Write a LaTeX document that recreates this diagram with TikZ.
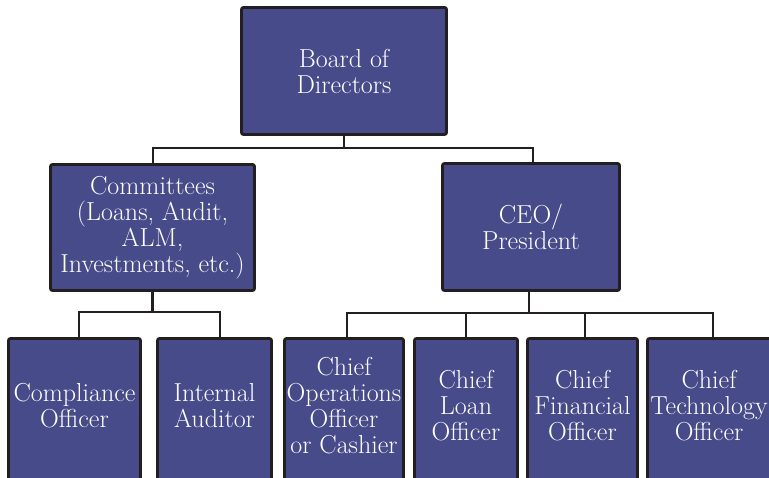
\documentclass[tikz,border=0pt]{standalone}
\definecolor{boxfill}{RGB}{72,75,138}
\definecolor{edge}{RGB}{35,31,32}
\begin{document}
\begin{tikzpicture}[x=1pt,y=-1pt,
  orgbox/.style={draw=edge, line width=2.8pt, fill=boxfill, rounded corners=2pt,
    inner sep=0pt, outer sep=0pt, text=white, align=center,
    font=\fontsize{26}{26}\selectfont},
  orgtext/.style={inner sep=0pt, text=white, align=center,
    font=\fontsize{26}{26}\selectfont},
  link/.style={draw=edge, line width=2.8pt}]
\useasboundingbox (0,0) rectangle (769,478);
\clip (0,0) rectangle (769,478);
% top levels
\node[orgbox, minimum width=205pt, minimum height=127pt] (board) at (344,71) {Board of\\Directors};
\node[orgbox, minimum width=204pt, minimum height=126pt] (comm) at (152.5,227.5) {Committees\\(Loans, Audit,\\ALM,\\Investments, etc.)};
\node[orgbox, minimum width=177pt, minimum height=127pt] (ceo) at (531,227) {CEO/\\President};
% bottom row boxes
\node[orgbox, minimum width=132pt, minimum height=144pt] (comp) at (74.5,410.5) {};
\node[orgbox, minimum width=114pt, minimum height=144pt] (audit) at (214.5,410.5) {};
\node[orgbox, minimum width=119pt, minimum height=144pt] (coo) at (344,410.5) {};
\node[orgbox, minimum width=103pt, minimum height=144pt] (clo) at (466,410.5) {};
\node[orgbox, minimum width=110pt, minimum height=144pt] (cfo) at (582.5,410.5) {};
\node[orgbox, minimum width=131pt, minimum height=144pt] (cto) at (713,410.5) {};
% bottom row texts
\node[orgtext] (compt) at (74.5,406) {Compliance\\Officer};
\node[orgtext] (auditt) at (214.5,406) {Internal\\Auditor};
\node[orgtext] (coot) at (344,406) {Chief\\Operations\\Officer\\or Cashier};
\node[orgtext] (clot) at (466,406) {Chief\\Loan\\Officer};
\node[orgtext] (cfot) at (582.5,406) {Chief\\Financial\\Officer};
\node[orgtext] (ctot) at (709,406) {Chief\\Technology\\Officer};
% connectors
\coordinate (bj) at (344,148);
\draw[link] (board.south) -- (bj);
\draw[link] ([xshift=0.5pt]comm.north) |- (bj) -| ([xshift=2pt]ceo.north);
\coordinate (cj) at (152.5,312);
\draw[link] (comm.south) -- (cj);
\draw[link] ([xshift=4.5pt]comp.north) |- (cj) -| ([xshift=5.5pt]audit.north);
\coordinate (ej) at (529,313);
\draw[link] ([xshift=-2pt]ceo.south) -- (ej);
\draw[link] ([xshift=3pt]coo.north) |- (ej) -| (cto.north);
\draw[link] (clo.north) -- (clo.north |- ej);
\draw[link] ([xshift=2.5pt]cfo.north) -- ([xshift=2.5pt]cfo.north |- ej);
\end{tikzpicture}
\end{document}
